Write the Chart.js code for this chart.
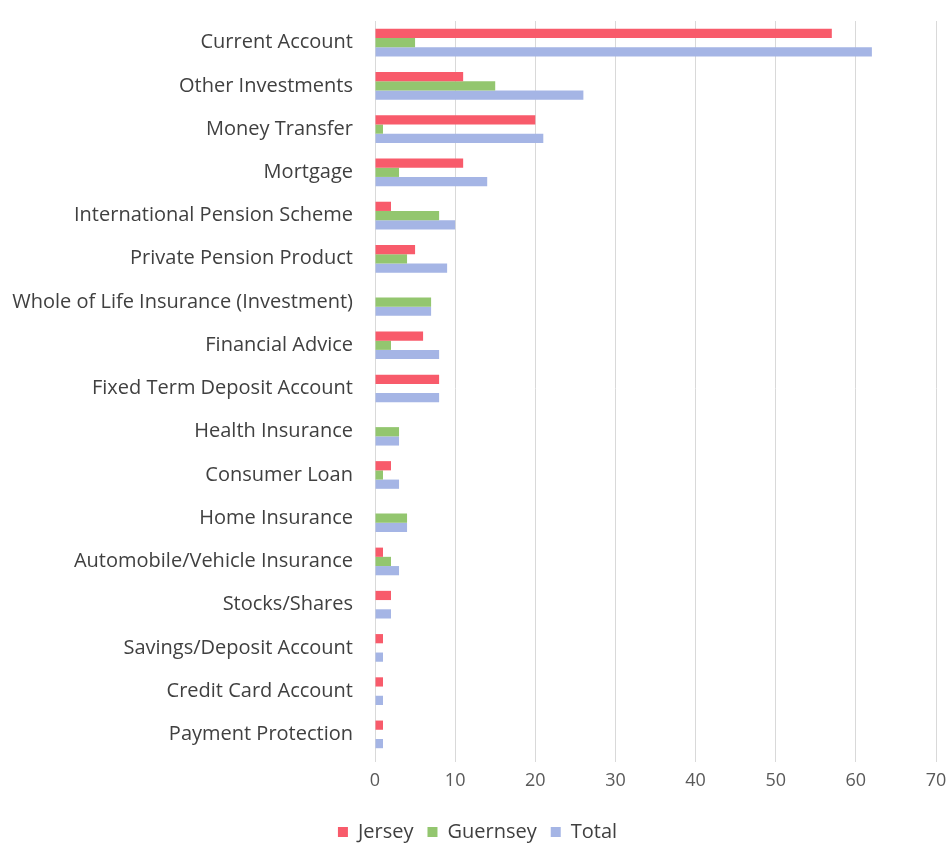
<!DOCTYPE html>
<html>
<head>
<meta charset="utf-8">
<script src="https://cdn.jsdelivr.net/npm/chart.js@4"></script>
<style>
  html, body { margin: 0; padding: 0; background: #fff; }
  #wrap { width: 949px; height: 843px; }
</style>
</head>
<body>
<div id="wrap"><canvas id="chart"></canvas></div>
<script>
var categories = [
  "Current Account",
  "Other Investments",
  "Money Transfer",
  "Mortgage",
  "International Pension Scheme",
  "Private Pension Product",
  "Whole of Life Insurance (Investment)",
  "Financial Advice",
  "Fixed Term Deposit Account",
  "Health Insurance",
  "Consumer Loan",
  "Home Insurance",
  "Automobile/Vehicle Insurance",
  "Stocks/Shares",
  "Savings/Deposit Account",
  "Credit Card Account",
  "Payment Protection",
];

var jersey   = [57, 11, 20, 11, 2, 5, 0, 6, 8, 0, 2, 0, 1, 2, 1, 1, 1];
var guernsey = [5, 15, 1, 3, 8, 4, 7, 2, 0, 3, 1, 4, 2, 0, 0, 0, 0];
var total    = [62, 26, 21, 14, 10, 9, 7, 8, 8, 3, 3, 4, 3, 2, 1, 1, 1];

var xTicks = [0, 10, 20, 30, 40, 50, 60, 70];

var FONT = "'Open Sans', Lato, sans-serif";

var data = {
  labels: categories,
  datasets: [
    { label: "Jersey", data: jersey, backgroundColor: "#f85b6b" },
    { label: "Guernsey", data: guernsey, backgroundColor: "#93c66f" },
    { label: "Total", data: total, backgroundColor: "#a5b5e5" },
  ],
};

var config = {
  type: "bar",
  data: data,
  options: {
    indexAxis: "y",
    responsive: true,
    maintainAspectRatio: false,
    animation: false,
    // left padding nudges the legend centre right; y axis width makes up for it
    layout: { padding: { top: 21, right: 0, left: 6, bottom: -9 } },
    datasets: {
      bar: { categoryPercentage: 0.64, barPercentage: 1.0 },
    },
    scales: {
      x: {
        min: 0,
        max: 70,
        afterBuildTicks: (scale) => {
          scale.ticks = xTicks.map((v) => ({ value: v }));
        },
        grid: { color: "#d9d9d9", lineWidth: 1, drawTicks: true, tickLength: 6 },
        border: { display: false },
        ticks: { color: "#595959", font: { family: FONT, size: 18 }, padding: 8 },
        afterFit: (scale) => {
          scale.height = 52;
          scale.paddingRight = 13;
          scale.paddingLeft = 0;
        },
      },
      y: {
        grid: { display: false },
        border: { display: true, color: "#d9d9d9" },
        ticks: { color: "#404040", font: { family: FONT, size: 20 }, padding: 14, autoSkip: false },
        afterFit: (scale) => {
          scale.width = 369;
          scale.paddingTop = 0;
          scale.paddingBottom = 0;
        },
      },
    },
    plugins: {
      legend: {
        position: "bottom",
        labels: {
          boxWidth: 10,
          boxHeight: 10,
          color: "#404040",
          font: { family: FONT, size: 20 },
          padding: 14,
        },
      },
      tooltip: { enabled: false },
    },
  },
};

var myChart = new Chart(document.getElementById("chart"), config);
</script>
</body>
</html>
